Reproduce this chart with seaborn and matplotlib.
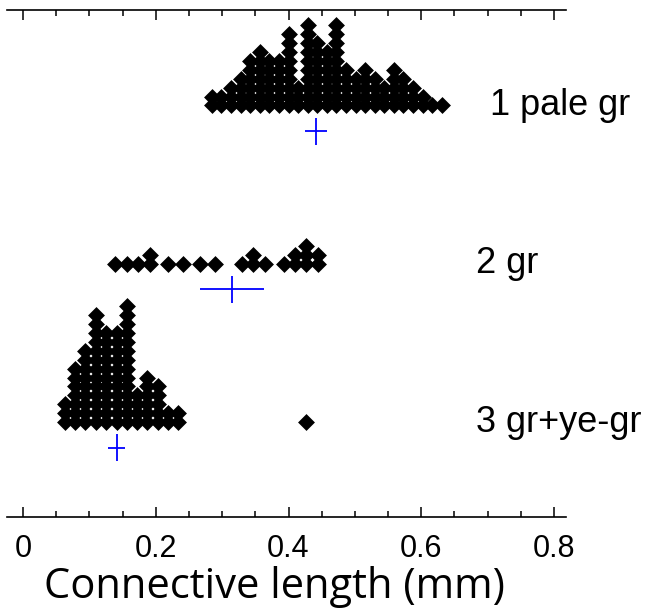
import matplotlib
matplotlib.use("Agg")
import matplotlib.pyplot as plt
import numpy as np
import pandas as pd
import seaborn as sns
from matplotlib.ticker import MultipleLocator

# ---- data ----
group_names = ["1 pale gr", "2 gr", "3 gr+ye-gr"]

g1_x = [0.285, 0.299, 0.314, 0.328, 0.342, 0.357, 0.371, 0.386, 0.400, 0.414,
        0.429, 0.443, 0.458, 0.472, 0.487, 0.501, 0.515, 0.530, 0.544, 0.559,
        0.573, 0.588, 0.602, 0.616, 0.631]
g1_n = [2, 2, 3, 4, 6, 7, 6, 6, 9, 3, 10, 8, 7, 10, 5, 4, 5, 4, 3, 5, 4, 3, 2, 1, 1]

g2_x = [0.139, 0.156, 0.174, 0.191, 0.219, 0.241, 0.266, 0.289, 0.330, 0.347,
        0.364, 0.393, 0.410, 0.427, 0.444]
g2_n = [1, 1, 1, 2, 1, 1, 1, 1, 1, 2, 1, 1, 2, 3, 2]

g3_x = [0.063, 0.078, 0.094, 0.110, 0.125, 0.141, 0.156, 0.172, 0.187, 0.203,
        0.218, 0.234, 0.426]
g3_n = [3, 7, 9, 13, 11, 11, 14, 4, 6, 5, 2, 2, 1]

mean_x = [0.441, 0.315, 0.141]
mean_err = [0.0166, 0.0477, 0.0126]

xticks = [0, 0.2, 0.4, 0.6, 0.8]
xtick_labels = ["0", "0.2", "0.4", "0.6", "0.8"]

# ---- layout (row units on the y axis) ----
baselines = [46.24, 28.48, 10.67]
label_x = [0.7035, 0.6825, 0.6825]
cross_offset = 2.9
cross_half = 1.5

rows = []
for name, xs, ns, base in zip(group_names, [g1_x, g2_x, g3_x], [g1_n, g2_n, g3_n], baselines):
    for xv, n in zip(xs, ns):
        for k in range(n):
            rows.append({"group": name, "length": xv, "level": base + k})
df = pd.DataFrame(rows)

sns.set_style("white")
plt.rcParams["font.family"] = ["Liberation Sans", "DejaVu Sans"]
plt.rcParams["text.color"] = "black"
plt.rcParams["axes.labelcolor"] = "black"
plt.rcParams["xtick.color"] = "black"

fig = plt.figure(figsize=(6.61, 6.10), dpi=100)
ax = fig.add_axes([7 / 661, (610 - 517) / 610, (566 - 7) / 661, (517 - 10) / 610])

sns.scatterplot(data=df, x="length", y="level", marker="D", s=74, color="black",
                linewidth=0, ax=ax, legend=False, zorder=3)

for m, e, base in zip(mean_x, mean_err, baselines):
    ax.errorbar(m, base - cross_offset, xerr=e, yerr=cross_half, fmt="none",
                ecolor="#0000ff", elinewidth=1.3, capsize=0, zorder=4)

for name, lx, base in zip(group_names, label_x, baselines):
    ax.text(lx, base, name, fontsize=26, ha="left", va="center", color="black",
            family=["Liberation Sans", "DejaVu Sans"])

x0 = -16 / 663.75
x1 = 0.8 + 12 / 663.75
ax.set_xlim(x0, x1)
ax.set_ylim(0, 507 / 8.9)

ax.set_xticks(xticks)
ax.set_xticklabels(xtick_labels, fontsize=22, color="black")
ax.xaxis.set_minor_locator(MultipleLocator(0.05))
ax.set_yticks([])
ax.set_ylabel("")
ax.set_xlabel("Connective length (mm)", fontsize=30, color="black",
              family=["Open Sans", "DejaVu Sans"], labelpad=2, x=0.479)

for s in ["left", "right"]:
    ax.spines[s].set_visible(False)
for s in ["top", "bottom"]:
    ax.spines[s].set_visible(True)
    ax.spines[s].set_color("black")
    ax.spines[s].set_linewidth(1.2)

ax.tick_params(axis="x", which="both", direction="in", top=True, bottom=True,
               labeltop=False, color="black", width=1.1)
ax.tick_params(axis="x", which="major", length=7.5, pad=12)
ax.tick_params(axis="x", which="minor", length=4)

fig.savefig("out.png", dpi=100)
